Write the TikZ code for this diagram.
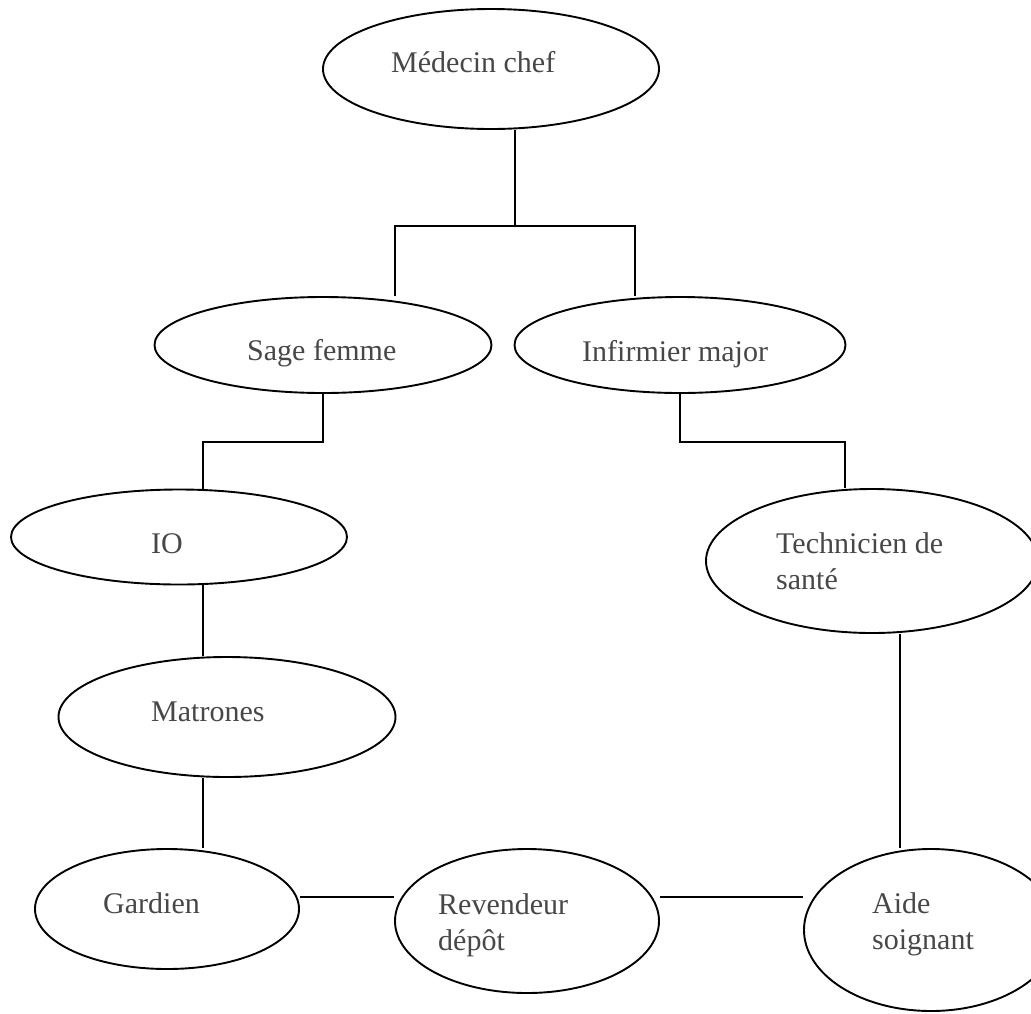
\documentclass[tikz,border=0pt]{standalone}
\usepackage{fontspec}
\setmainfont{Liberation Serif}
\usetikzlibrary{shapes.geometric}

\begin{document}
\begin{tikzpicture}[x=1pt, y=-1pt,
    oval/.style={draw, ellipse, line width=1.9pt, inner sep=0pt},
    lbl/.style={anchor=base west, inner sep=0pt, align=left, text=black!72,
        font=\fontsize{30}{36}\selectfont},
    link/.style={line width=1.9pt}]

    \clip (0,0) rectangle (1031,1013);

    \node [oval, minimum width=336, minimum height=120] (chef) at (491,69) {};
    \node [oval, minimum width=337, minimum height=96] (sage) at (323,345) {};
    \node [oval, minimum width=331, minimum height=96] (inf) at (680,345) {};
    \node [oval, minimum width=336, minimum height=95] (io) at (179,537) {};
    \node [oval, minimum width=332, minimum height=144] (tech) at (872,561) {};
    \node [oval, minimum width=337, minimum height=120] (matr) at (227,717) {};
    \node [oval, minimum width=264, minimum height=120] (gard) at (167,909) {};
    \node [oval, minimum width=264, minimum height=144] (rev) at (527,921) {};
    \node [oval, minimum width=254, minimum height=162] (aide) at (931,930) {};

    % base of two-line labels is their last line
    \node [lbl] (chefL) at (391,72) {Médecin chef};
    \node [lbl] (sageL) at (247,360) {Sage femme};
    \node [lbl] (infL) at (582,361) {Infirmier major};
    \node [lbl] (ioL) at (151,553) {IO};
    \node [lbl] (techL) at (776,589) {Technicien de\\santé};
    \node [lbl] (matrL) at (151,721) {Matrones};
    \node [lbl] (gardL) at (103,913) {Gardien};
    \node [lbl] (revL) at (438,950) {Revendeur\\dépôt};
    \node [lbl] (aideL) at (872,949) {Aide\\soignant};

    % junctions
    \coordinate (chefJ) at (515,226);
    \coordinate (sageJ) at (395,226);
    \coordinate (infJ) at (635,226);
    \coordinate (sageK) at (323,442);
    \coordinate (ioK) at (203,442);
    \coordinate (infK) at (680,442);
    \coordinate (techK) at (845,442);
    \coordinate (colR) at (900,0);
    \coordinate (rowB) at (0,897);

    \draw [link] (chef.south -| chefJ) -- (chefJ);
    \draw [link] (sage.north -| sageJ) -- (sageJ) -- (infJ) -- (inf.north -| infJ);
    \draw [link] (sage.south) -- (sageK) -- (ioK) -- (io.north -| ioK);
    \draw [link] (inf.south) -- (infK) -- (techK) -- (tech.north -| techK);
    \draw [link] (io.south -| ioK) -- (matr.north -| ioK);
    \draw [link] (matr.south -| ioK) -- (gard.north -| ioK);
    \draw [link] (tech.south -| colR) -- (aide.north -| colR);
    \draw [link] (gard.east |- rowB) -- (rev.west |- rowB);
    \draw [link] (rev.east |- rowB) -- (aide.west |- rowB);

\end{tikzpicture}
\end{document}
